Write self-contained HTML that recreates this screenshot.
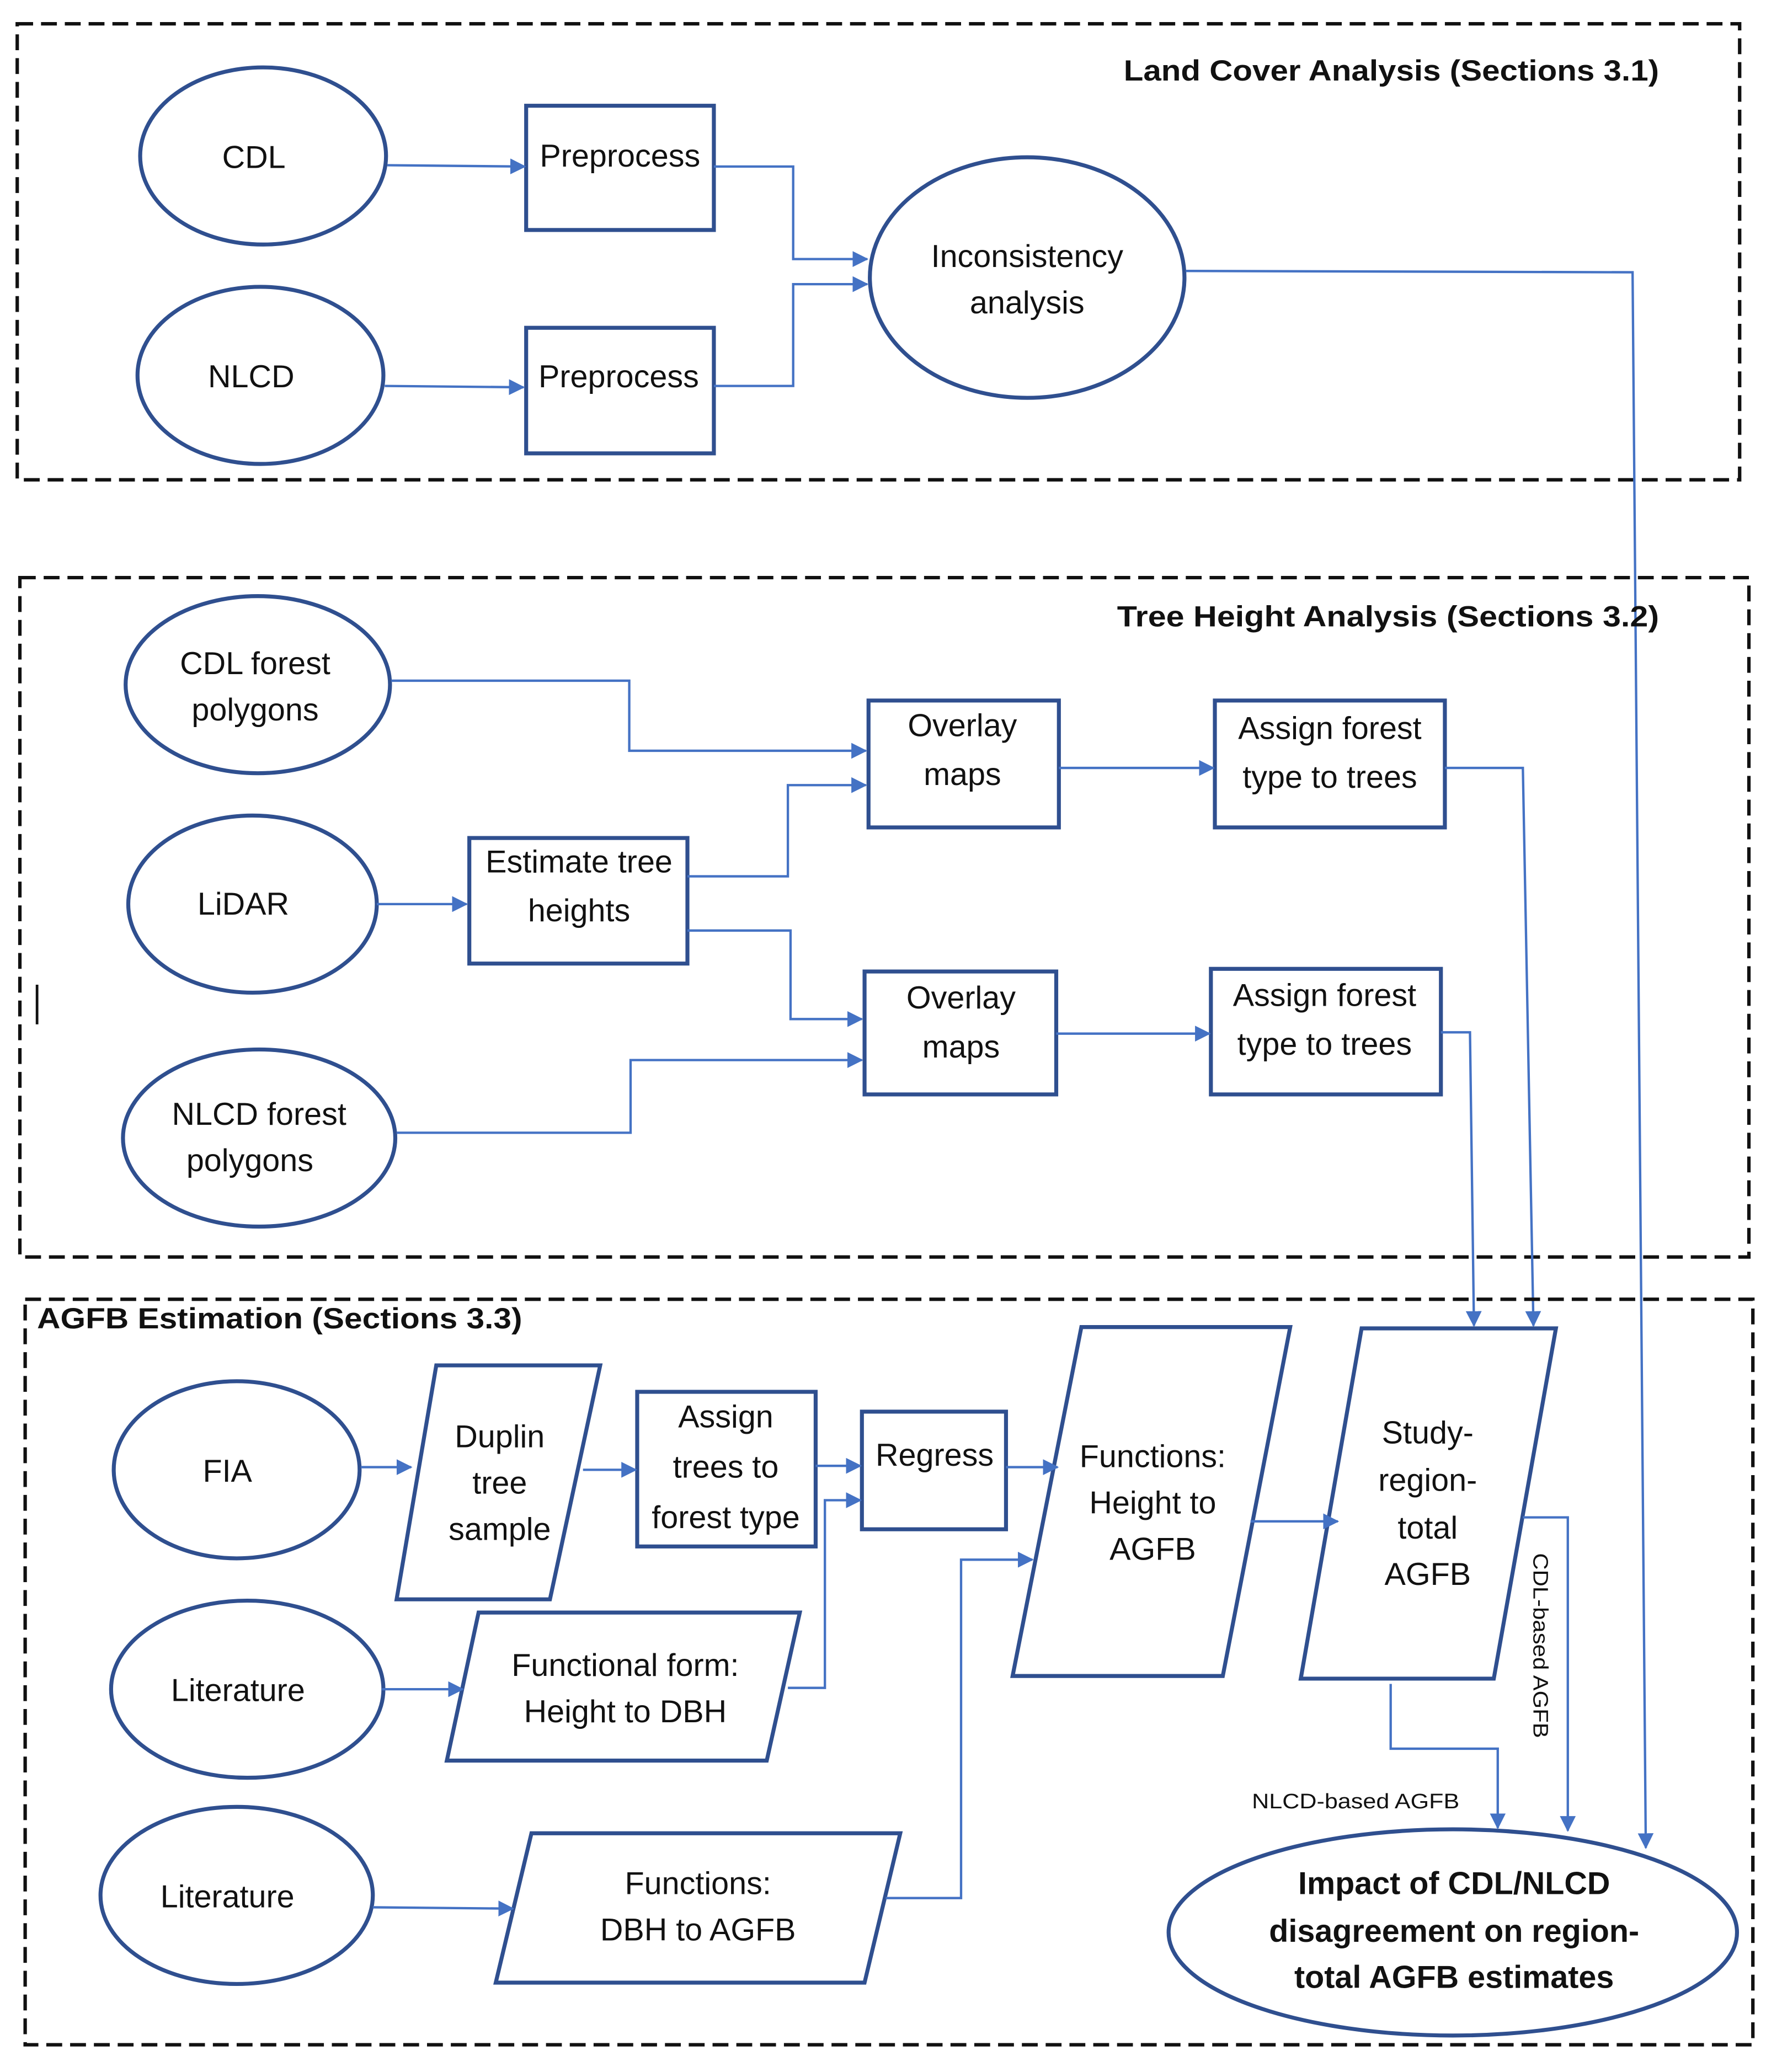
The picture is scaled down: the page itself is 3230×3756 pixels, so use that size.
<!DOCTYPE html>
<html><head><meta charset="utf-8"><style>
html,body{margin:0;padding:0;background:#fff}
svg{display:block}
text{font-family:"Liberation Sans",sans-serif;fill:#111}
.n{font-size:24px;text-anchor:middle}
.b{font-size:22px;font-weight:bold}
.s{fill:none;stroke:#2F4F8F;stroke-width:3}
.a{fill:none;stroke:#4472C4;stroke-width:1.8;marker-end:url(#ar)}
.d{fill:none;stroke:#111;stroke-width:2.6;stroke-dasharray:12 6}
</style></head><body>
<svg width="3230" height="3756" viewBox="0 0 1348 1567.6" xmlns="http://www.w3.org/2000/svg">
<defs><marker id="ar" markerWidth="12" markerHeight="12" refX="11" refY="6" orient="auto" markerUnits="userSpaceOnUse"><path d="M0,0 L12,6 L0,12 z" fill="#4472C4"/></marker></defs>
<rect width="1348" height="1568" fill="#fff"/>
<!-- box 1 -->
<rect class="d" x="13" y="18" width="1303" height="345"/>
<text class="b" x="850" y="61" textLength="405" lengthAdjust="spacingAndGlyphs">Land Cover Analysis (Sections 3.1)</text>
<ellipse class="s" cx="199" cy="118" rx="93" ry="67"/><text class="n" x="192" y="127">CDL</text>
<ellipse class="s" cx="197" cy="284" rx="93" ry="67"/><text class="n" x="190" y="293">NLCD</text>
<rect class="s" x="398" y="80" width="142" height="94"/><text class="n" x="469" y="126">Preprocess</text>
<rect class="s" x="398" y="248" width="142" height="95"/><text class="n" x="468" y="293">Preprocess</text>
<ellipse class="s" cx="777" cy="210" rx="119" ry="91"/><text class="n" x="777" y="202">Inconsistency</text><text class="n" x="777" y="237">analysis</text>
<path class="a" d="M293,125 L397,126"/>
<path class="a" d="M291,292 L396,293"/>
<path class="a" d="M540,126 H600 V196 H656"/>
<path class="a" d="M540,292 H600 V215 H656"/>
<path class="a" d="M897,205 L1235,206 L1245,1398"/>
<!-- box 2 -->
<rect class="d" x="15" y="437" width="1308" height="514"/>
<text class="b" x="845" y="474" textLength="410" lengthAdjust="spacingAndGlyphs">Tree Height Analysis (Sections 3.2)</text>
<line x1="28" y1="745" x2="28" y2="775" stroke="#111" stroke-width="2"/>
<ellipse class="s" cx="195" cy="518" rx="100" ry="67"/><text class="n" x="193" y="510">CDL forest</text><text class="n" x="193" y="545">polygons</text>
<ellipse class="s" cx="191" cy="684" rx="94" ry="67"/><text class="n" x="184" y="692">LiDAR</text>
<ellipse class="s" cx="196" cy="861" rx="103" ry="67"/><text class="n" x="196" y="851">NLCD forest</text><text class="n" x="189" y="886">polygons</text>
<rect class="s" x="355" y="634" width="165" height="95"/><text class="n" x="438" y="660">Estimate tree</text><text class="n" x="438" y="697">heights</text>
<rect class="s" x="657" y="530" width="144" height="96"/><text class="n" x="728" y="557">Overlay</text><text class="n" x="728" y="594">maps</text>
<rect class="s" x="654" y="735" width="145" height="93"/><text class="n" x="727" y="763">Overlay</text><text class="n" x="727" y="800">maps</text>
<rect class="s" x="919" y="530" width="174" height="96"/><text class="n" x="1006" y="559">Assign forest</text><text class="n" x="1006" y="596">type to trees</text>
<rect class="s" x="916" y="733" width="174" height="95"/><text class="n" x="1002" y="761">Assign forest</text><text class="n" x="1002" y="798">type to trees</text>
<path class="a" d="M296,515 H476 V568 H655"/>
<path class="a" d="M520,663 H596 V594 H655"/>
<path class="a" d="M520,704 H598 V771 H652"/>
<path class="a" d="M300,857 H477 V802 H652"/>
<path class="a" d="M285,684 H353"/>
<path class="a" d="M801,581 H918"/>
<path class="a" d="M799,782 H915"/>
<path class="a" d="M1093,581 H1152 L1160,1003"/>
<path class="a" d="M1090,781 H1112 L1115,1003"/>
<!-- box 3 -->
<rect class="d" x="19" y="983" width="1307" height="564"/>
<text class="b" x="28" y="1005" textLength="367" lengthAdjust="spacingAndGlyphs">AGFB Estimation (Sections 3.3)</text>
<ellipse class="s" cx="179" cy="1112" rx="93" ry="67"/><text class="n" x="172" y="1121">FIA</text>
<ellipse class="s" cx="187" cy="1278" rx="103" ry="67"/><text class="n" x="180" y="1287">Literature</text>
<ellipse class="s" cx="179" cy="1434" rx="103" ry="67"/><text class="n" x="172" y="1443">Literature</text>
<polygon class="s" points="330,1033 454,1033 416,1210 300,1210"/><text class="n" x="378" y="1095">Duplin</text><text class="n" x="378" y="1130">tree</text><text class="n" x="378" y="1165">sample</text>
<rect class="s" x="482" y="1053" width="135" height="117"/><text class="n" x="549" y="1080">Assign</text><text class="n" x="549" y="1118">trees to</text><text class="n" x="549" y="1156">forest type</text>
<rect class="s" x="652" y="1068" width="109" height="89"/><text class="n" x="707" y="1109">Regress</text>
<polygon class="s" points="362,1220 605,1220 580,1332 338,1332"/><text class="n" x="473" y="1268">Functional form:</text><text class="n" x="473" y="1303">Height to DBH</text>
<polygon class="s" points="402,1387 681,1387 654,1500 375,1500"/><text class="n" x="528" y="1433">Functions:</text><text class="n" x="528" y="1468">DBH to AGFB</text>
<polygon class="s" points="818,1004 976,1004 925,1268 766,1268"/><text class="n" x="872" y="1110">Functions:</text><text class="n" x="872" y="1145">Height to</text><text class="n" x="872" y="1180">AGFB</text>
<polygon class="s" points="1030,1005 1177,1005 1130,1270 984,1270"/><text class="n" x="1080" y="1092">Study-</text><text class="n" x="1080" y="1128">region-</text><text class="n" x="1080" y="1164">total</text><text class="n" x="1080" y="1199">AGFB</text>
<ellipse class="s" cx="1099" cy="1462" rx="215" ry="78"/>
<text class="n" x="1100" y="1433" style="font-weight:bold">Impact of CDL/NLCD</text>
<text class="n" x="1100" y="1469" style="font-weight:bold">disagreement on region-</text>
<text class="n" x="1100" y="1504" style="font-weight:bold">total AGFB estimates</text>
<path class="a" d="M273,1110 H311"/>
<path class="a" d="M441,1112 H481"/>
<path class="a" d="M617,1109 H651"/>
<path class="a" d="M596,1277 H624 V1135 H651"/>
<path class="a" d="M761,1110 H800"/>
<path class="a" d="M670,1436 H727 V1180 H781"/>
<path class="a" d="M946,1151 H1012"/>
<path class="a" d="M1052,1274 V1323 H1133 V1383"/>
<path class="a" d="M1152,1148 H1186 V1385"/>
<path class="a" d="M289,1278 H350"/>
<path class="a" d="M282,1443 L388,1444"/>
<text x="1160" y="1175" style="font-size:16px" transform="rotate(90 1160 1175)" textLength="140" lengthAdjust="spacingAndGlyphs">CDL-based AGFB</text>
<text x="947" y="1368" style="font-size:16px" textLength="157" lengthAdjust="spacingAndGlyphs">NLCD-based AGFB</text>
</svg>
</body></html>
